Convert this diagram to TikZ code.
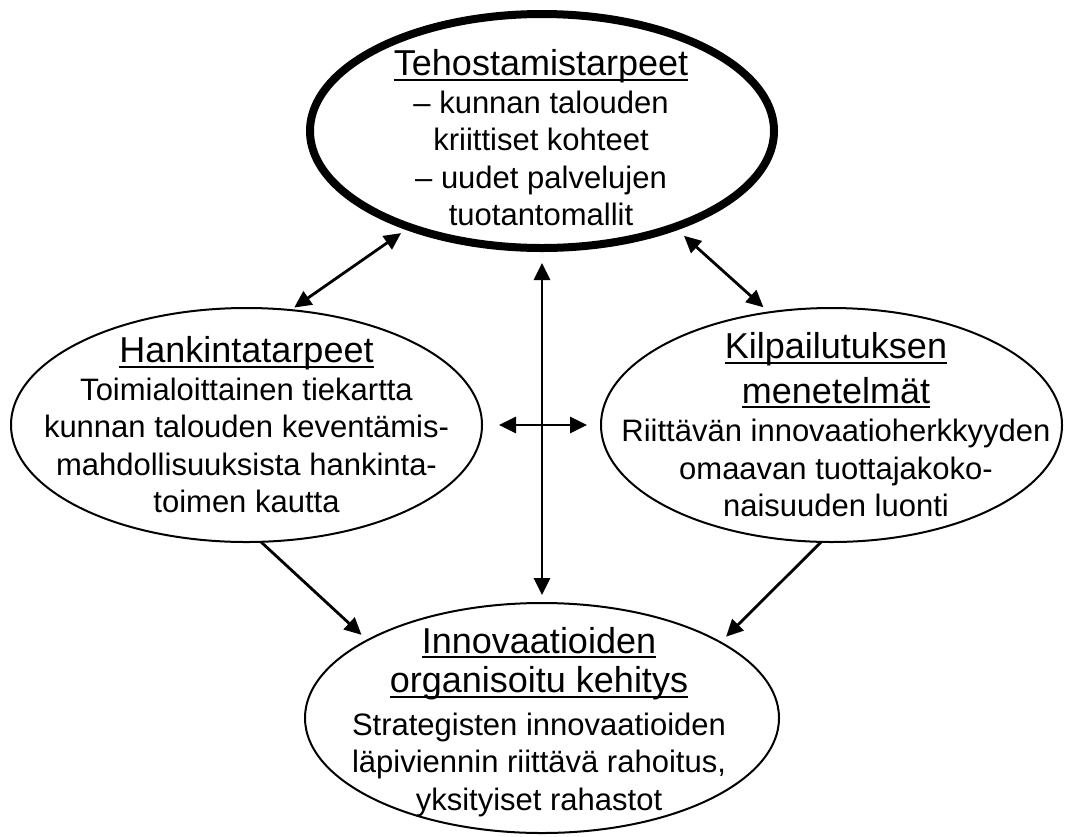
\documentclass[tikz,border=0pt]{standalone}
\usepackage{fontspec}
\setmainfont{Liberation Sans}
\usetikzlibrary{arrows.meta,shapes.geometric}

% underline drawn at a fixed depth below the baseline
\newlength\ulbarwd
\newcommand\ulbar[1]{\settowidth\ulbarwd{#1}\rlap{\rule[-5pt]{\ulbarwd}{2pt}}#1}
\newcommand\headfont{\fontsize{36}{37.5}\selectfont}

\begin{document}
\begin{tikzpicture}[x=1pt,y=-1pt,
  bubble/.style={draw, shape=ellipse, line width=2pt, inner sep=0pt, outer sep=0pt},
  mainbubble/.style={bubble, line width=8pt},
  txt/.style={align=center, inner sep=0pt, font=\fontsize{31}{37.5}\selectfont},
  >={Triangle[length=17pt,width=16pt]},
  link/.style={line width=2.8pt, ->},
  twoway/.style={line width=2.8pt, <->}]

\useasboundingbox (0,0) rectangle (1067,836);

% bubbles
\node[mainbubble, minimum width=464pt, minimum height=234pt] (top) at (542,131) {};
\node[bubble, minimum width=471pt, minimum height=234pt] (left) at (246.5,425) {};
\node[bubble, minimum width=461pt, minimum height=234pt] (right) at (831.5,425) {};
\node[bubble, minimum width=474pt, minimum height=230pt] (bottom) at (542,718) {};

% texts
\node[txt] (topText) at (541,138) {{\headfont\ulbar{Tehostamistarpeet}}\\
  -- kunnan talouden\\ kriittiset kohteet\\ -- uudet palvelujen\\ tuotantomallit};
\node[txt] (leftText) at (246.5,425) {{\headfont\ulbar{Hankintatarpeet}}\\
  Toimialoittainen tiekartta\\ kunnan talouden keventämis-\\
  mahdollisuuksista hankinta-\\ toimen kautta};
\node[txt] (rightText) at (836,425) {{\headfont\ulbar{Kilpailutuksen}}\\[7pt]
  {\headfont\ulbar{menetelmät}}\\[1pt]
  Riittävän innovaatioherkkyyden\\ omaavan tuottajakoko-\\ naisuuden luonti};
\node[txt] (bottomText) at (539,722) {{\headfont\ulbar{Innovaatioiden}}\\[2pt]
  {\headfont\ulbar{organisoitu kehitys}}\\[5pt]
  Strategisten innovaatioiden\\ läpiviennin riittävä rahoitus,\\ yksityiset rahastot};

% connectors
\draw[twoway, shorten <=4.4pt, shorten >=10.5pt] (left.69.1) -- (top.216.5);
\draw[twoway, shorten <=13pt, shorten >=7.6pt] (top.324.6) -- (right.119.6);
\draw[twoway, shorten <=15pt, shorten >=8pt] (top.south) -- (bottom.north);
\draw[twoway, shorten <=17pt, shorten >=14pt] (left.east) -- (right.west);
\draw[link, shorten >=8pt] (left.277.5) -- (bottom.156.5);
\draw[link, shorten >=8pt] (right.265.9) -- (bottom.23.4);
\end{tikzpicture}
\end{document}
